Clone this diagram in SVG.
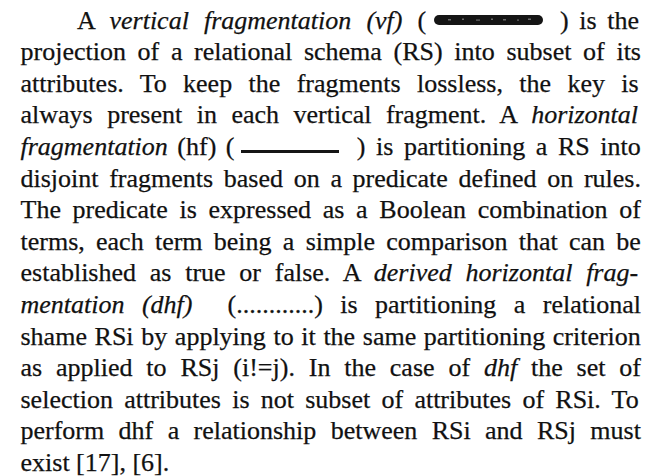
<svg xmlns="http://www.w3.org/2000/svg" width="663" height="476" viewBox="0 0 663 476">
  <style>
    .t { font-family: "Liberation Serif", "Times New Roman", serif; font-size: 26px; fill: #111; stroke: #111; stroke-width: 0.25px; }
    .i { font-style: italic; }
    .speck { fill: #6a6a6a; }
  </style>
  <rect width="663" height="476" fill="#ffffff"/>

  <!-- justified paragraph, one text element per line -->
  <g id="paragraph" class="t">
    <text x="77" y="28.5" style="word-spacing:8.6px">A <tspan class="i">vertical fragmentation (vf)</tspan> (</text>
    <text x="560" y="28.5" style="word-spacing:4.1px">) is the</text>
    <text x="20.5" y="60.1" style="word-spacing:5.16px">projection of a relational schema (RS) into subset of its</text>
    <text x="20.5" y="91.7" style="word-spacing:9.86px">attributes. To keep the fragments lossless, the key is</text>
    <text x="20.5" y="123.3" style="word-spacing:7.97px">always present in each vertical fragment. A <tspan class="i">horizontal</tspan></text>
    <text x="20.5" y="154.9" style="word-spacing:3px"><tspan class="i">fragmentation</tspan> (hf) (</text>
    <text x="356.7" y="154.9" style="word-spacing:4.1px">) is partitioning a RS into</text>
    <text x="20.5" y="186.5" style="word-spacing:4.18px">disjoint fragments based on a predicate defined on rules.</text>
    <text x="20.5" y="218.1" style="word-spacing:5.18px">The predicate is expressed as a Boolean combination of</text>
    <text x="20.5" y="249.7" style="word-spacing:4.76px">terms, each term being a simple comparison that can be</text>
    <text x="20.5" y="281.3" style="word-spacing:7.25px">established as true or false. A <tspan class="i">derived horizontal frag-</tspan></text>
    <text x="20.5" y="312.9" style="word-spacing:10.96px"><tspan class="i">mentation (dhf)</tspan> <tspan dx="17.5">(............) is partitioning a relational</tspan></text>
    <text x="20.5" y="344.5" style="word-spacing:1.13px">shame RSi by applying to it the same partitioning criterion</text>
    <text x="20.5" y="376.1" style="word-spacing:7.34px">as applied to RSj (i!=j). In the case of <tspan class="i">dhf</tspan> the set of</text>
    <text x="20.5" y="407.7" style="word-spacing:4.75px">selection attributes is not subset of attributes of RSi. To</text>
    <text x="20.5" y="439.3" style="word-spacing:7.87px">perform dhf a relationship between RSi and RSj must</text>
    <text x="20.5" y="470.9">exist [17], [6].</text>
  </g>

  <!-- inline line-style samples: dense shaded bar for vf, solid rule for hf -->
  <g id="vf-sample">
    <rect x="434" y="15" width="109" height="10" rx="5" fill="#151515"/>
    <rect class="speck" x="448" y="19" width="3" height="1.5"/>
    <rect class="speck" x="462" y="18.5" width="2" height="1.5"/>
    <rect class="speck" x="476" y="19.5" width="4" height="1.2"/>
    <rect class="speck" x="491" y="18.5" width="2" height="1.5"/>
    <rect class="speck" x="503" y="19" width="3" height="1.5"/>
    <rect class="speck" x="517" y="19.5" width="2" height="1.2"/>
    <rect class="speck" x="528" y="18.5" width="3" height="1.5"/>
  </g>
  <g id="hf-sample">
    <rect x="241" y="150" width="98" height="3" fill="#151515"/>
  </g>
</svg>
